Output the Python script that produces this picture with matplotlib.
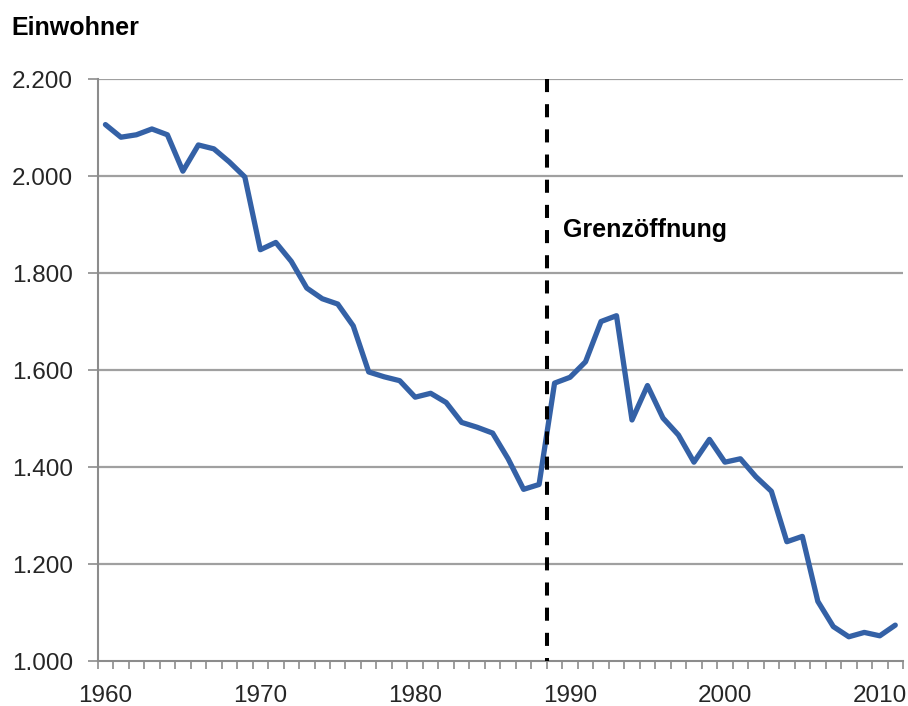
import matplotlib.pyplot as plt
from matplotlib.ticker import FixedLocator, FuncFormatter

years = list(range(1960, 2012))
einwohner = [2106, 2080, 2085, 2097, 2085, 2010, 2064, 2056, 2029, 1998,
             1848, 1863, 1824, 1769, 1747, 1736, 1691, 1596, 1586, 1578,
             1544, 1552, 1533, 1492, 1482, 1470, 1417, 1354, 1364, 1573,
             1585, 1617, 1700, 1712, 1497, 1568, 1501, 1466, 1410, 1457,
             1410, 1417, 1380, 1350, 1246, 1257, 1123, 1071, 1050, 1059,
             1052, 1074]
y_ticks = [1000, 1200, 1400, 1600, 1800, 2000, 2200]
x_labels = [1960, 1970, 1980, 1990, 2000, 2010]
grenz_jahr = 1988.5
grenz_text = 'Grenzöffnung'
y_title = 'Einwohner'

plt.rcParams['font.family'] = ['Liberation Sans', 'DejaVu Sans']

fig = plt.figure(figsize=(9.08, 7.06), dpi=100)
ax = fig.add_axes([0.1076, 0.0637, 0.9945 - 0.1076, 0.8881 - 0.0637])

grid_col = '#a0a0a0'
axis_col = '#8c8c8c'
text_col = '#262626'

for v in y_ticks[1:]:
    ax.axhline(v, color=grid_col, lw=1.6, zorder=1)

ax.plot(years, einwohner, color='#3461a6', lw=3.8, solid_joinstyle='round',
        solid_capstyle='round', zorder=3)

# Grenzoeffnung marker
ax.plot([grenz_jahr, grenz_jahr], [y_ticks[-1], y_ticks[0]], color='black',
        lw=2.9, linestyle=(0, (3.25, 3.0)), zorder=4, clip_on=False)
ax.text(1989.55, 1875, grenz_text, fontsize=18, fontweight='bold',
        color='black', va='baseline', ha='left')

ax.set_xlim(1959.5, 2011.5)
ax.set_ylim(y_ticks[0], y_ticks[-1])

ax.yaxis.set_major_locator(FixedLocator(y_ticks))
ax.yaxis.set_major_formatter(FuncFormatter(lambda v, p: f'{v:,.0f}'.replace(',', '.')))
ax.xaxis.set_major_locator(FixedLocator(x_labels))
ax.xaxis.set_minor_locator(FixedLocator([y - 0.5 for y in years] + [years[-1] + 0.5]))

ax.tick_params(axis='y', direction='out', length=7.2, width=1.2, color=axis_col,
               pad=10.5, labelsize=17.5, labelcolor=text_col)
ax.tick_params(axis='x', which='major', length=0, pad=17,
               labelsize=17.5, labelcolor=text_col)
ax.tick_params(axis='x', which='minor', direction='out', length=5.8, width=1.2,
               color=axis_col)

for side in ['top', 'right']:
    ax.spines[side].set_visible(False)
for side in ['left', 'bottom']:
    ax.spines[side].set_color(axis_col)
    ax.spines[side].set_linewidth(1.5)

fig.text(11 / 908, 1 - 35 / 706, y_title, fontsize=18, fontweight='bold',
         color='black', va='baseline', ha='left')

fig.savefig('out.png', dpi=100)
